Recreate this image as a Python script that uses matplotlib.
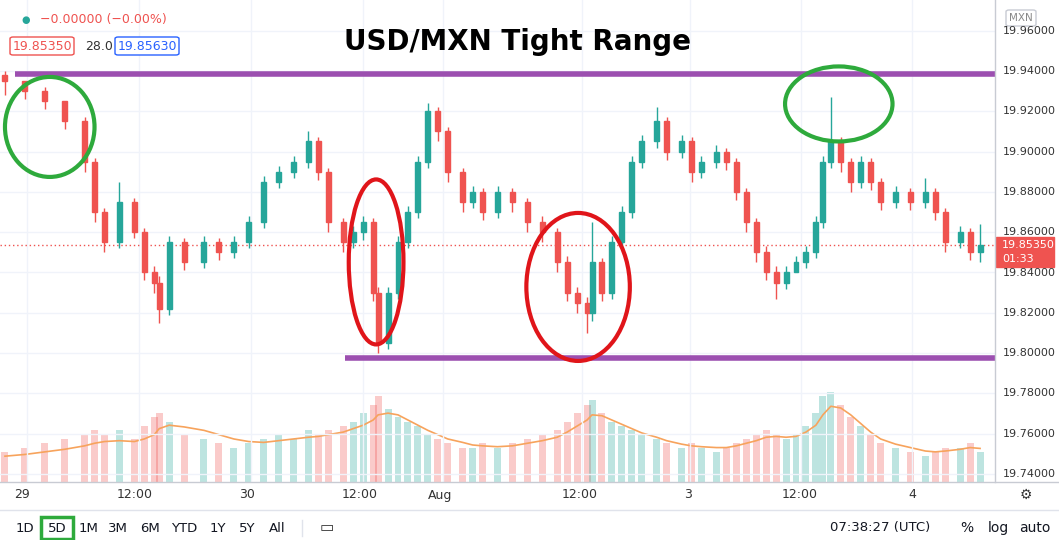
import matplotlib
matplotlib.use("Agg")
import matplotlib.pyplot as plt
from matplotlib.patches import Ellipse, FancyBboxPatch, Rectangle

xs = [0,20,40,60,80,90,100,115,130,140,150,155,165,180,200,215,230,245,260,275,290,305,315,325,340,350,360,370,375,385,
      395,405,415,425,435,445,460,470,480,495,510,525,540,555,565,575,585,590,600,610,620,630,640,655,665,680,690,700,715,725,
      735,745,755,765,775,785,795,805,815,822,830,840,850,860,870,880,895,910,925,935,945,960,970,980]
closes = [19.935,19.930,19.925,19.915,19.895,19.870,19.855,19.875,19.860,19.840,
          19.835,19.822,19.855,19.845,19.855,19.850,19.855,19.865,19.885,19.890,
          19.895,19.905,19.890,19.865,19.855,19.860,19.865,19.830,19.805,19.830,
          19.855,19.870,19.895,19.920,19.910,19.890,19.875,19.880,19.870,19.880,
          19.875,19.865,19.860,19.845,19.830,19.825,19.820,19.845,19.830,19.855,
          19.870,19.895,19.905,19.915,19.900,19.905,19.890,19.895,19.900,19.895,
          19.880,19.865,19.850,19.840,19.835,19.840,19.845,19.850,19.865,19.895,
          19.905,19.895,19.885,19.895,19.885,19.875,19.880,19.875,19.880,19.870,
          19.855,19.860,19.850,19.8535]
first_open = 19.938
highs = [19.940,19.934,19.932,19.922,19.917,19.897,19.872,19.885,19.877,19.862,
         19.843,19.838,19.858,19.857,19.858,19.857,19.858,19.868,19.888,19.893,
         19.898,19.910,19.907,19.892,19.867,19.863,19.868,19.867,19.833,19.833,
         19.858,19.873,19.898,19.924,19.922,19.912,19.892,19.883,19.882,19.883,
         19.882,19.877,19.868,19.862,19.848,19.833,19.828,19.865,19.847,19.858,
         19.873,19.898,19.908,19.922,19.917,19.908,19.907,19.898,19.903,19.902,
         19.897,19.882,19.867,19.853,19.843,19.843,19.848,19.853,19.868,19.898,
         19.927,19.907,19.897,19.898,19.897,19.887,19.883,19.882,19.887,19.882,
         19.872,19.863,19.862,19.864]
lows = [19.928,19.926,19.921,19.911,19.890,19.865,19.850,19.852,19.857,19.836,
        19.830,19.815,19.819,19.841,19.842,19.846,19.847,19.852,19.862,19.882,
        19.887,19.892,19.886,19.860,19.850,19.852,19.856,19.826,19.800,19.802,
        19.827,19.852,19.867,19.892,19.905,19.885,19.870,19.872,19.866,19.867,
        19.870,19.860,19.855,19.840,19.826,19.820,19.810,19.816,19.826,19.827,
        19.852,19.867,19.892,19.902,19.896,19.897,19.885,19.887,19.892,19.891,
        19.876,19.860,19.845,19.836,19.827,19.832,19.841,19.842,19.847,19.862,
        19.892,19.890,19.880,19.882,19.881,19.871,19.872,19.871,19.872,19.866,
        19.850,19.852,19.846,19.845]
volumes = [0.35,0.40,0.45,0.50,0.55,0.60,0.55,0.60,0.50,0.65,
           0.75,0.80,0.70,0.55,0.50,0.45,0.40,0.45,0.50,0.55,
           0.50,0.60,0.55,0.60,0.65,0.70,0.80,0.90,1.00,0.85,
           0.75,0.70,0.65,0.55,0.50,0.45,0.40,0.40,0.45,0.40,
           0.45,0.50,0.55,0.60,0.70,0.80,0.90,0.95,0.80,0.70,
           0.65,0.60,0.55,0.50,0.45,0.40,0.45,0.40,0.35,0.40,
           0.45,0.50,0.55,0.60,0.55,0.50,0.55,0.65,0.80,1.00,
           1.05,0.90,0.75,0.65,0.55,0.45,0.40,0.35,0.30,0.35,
           0.40,0.40,0.45,0.35]
vol_ma = [0.30,0.32,0.35,0.38,0.42,0.45,0.47,0.48,0.47,0.50,
          0.55,0.62,0.66,0.64,0.60,0.55,0.50,0.47,0.46,0.48,
          0.50,0.52,0.53,0.55,0.58,0.62,0.66,0.72,0.78,0.80,
          0.78,0.72,0.66,0.60,0.55,0.50,0.46,0.43,0.42,0.41,
          0.42,0.45,0.48,0.52,0.58,0.65,0.72,0.78,0.77,0.72,
          0.67,0.62,0.57,0.52,0.48,0.44,0.42,0.41,0.40,0.40,
          0.42,0.45,0.48,0.52,0.53,0.52,0.53,0.58,0.66,0.78,
          0.88,0.86,0.78,0.68,0.58,0.50,0.44,0.40,0.36,0.35,
          0.36,0.38,0.40,0.39]
price_ticks = [19.74,19.76,19.78,19.80,19.82,19.84,19.86,19.88,19.90,19.92,19.94,19.96]
time_labels = ["29","12:00","30","12:00","Aug","12:00","3","12:00","4"]
time_pos = [22,135,247,360,440,580,688,800,912]
last_price = 19.8535

W, H = 1059, 540
fig = plt.figure(figsize=(W/100, H/100), dpi=100)
fig.patch.set_facecolor("white")
ax = fig.add_axes([0, 1-482/H, 995/W, 482/H])
ax.set_xlim(-5, 995)
ax.set_ylim(19.736, 19.9752)
for s in ax.spines.values():
    s.set_visible(False)
ax.set_xticks([]); ax.set_yticks([])
for t in price_ticks:
    ax.axhline(t, color="#f0f3fa", lw=1, zorder=0)
for p in time_pos:
    ax.axvline(p, color="#f0f3fa", lw=1, zorder=0)

GREEN, RED = "#26a69a", "#ef5350"
vax = ax.twinx()
vax.set_ylim(0, 5.6)
vax.set_axis_off()
vax.set_xlim(-5, 995)
prev = first_open
for i, x in enumerate(xs):
    c = closes[i]; o = prev
    col = GREEN if c >= o else RED
    vax.bar(x, volumes[i], width=7, color=col, alpha=0.3, zorder=1)
    prev = c
vax.plot(xs, vol_ma, color="#f7a35c", lw=1.2, zorder=2)

prev = first_open
for i, x in enumerate(xs):
    c = closes[i]; o = prev
    col = GREEN if c >= o else RED
    ax.vlines(x, lows[i], highs[i], color=col, lw=1, zorder=3)
    ax.add_patch(Rectangle((x-2.5, min(o, c)), 5, max(abs(c-o), 0.0006), color=col, zorder=4))
    prev = c
ax.set_zorder(vax.get_zorder()+1); ax.patch.set_visible(False)

ax.axhline(last_price, color=RED, lw=1, ls=(0, (1, 2)), zorder=2)
PUR = "#9c4fb0"
ax.plot([10, 995], [19.9385, 19.9385], color=PUR, lw=4, solid_capstyle="butt", zorder=5)
ax.plot([342, 995], [19.7975, 19.7975], color=PUR, lw=4, solid_capstyle="butt", zorder=5)

def px2p(y):
    return 19.94 - (y-71)*0.2/403
ells = [(45,127,90,100,"#2eaa3c"),(838,104,108,75,"#2eaa3c"),(373,262,55,165,"#e0151a"),(576,287,104,148,"#e0151a")]
for ex, ey, ew, eh, col in ells:
    ax.add_patch(Ellipse((ex, px2p(ey)), ew, eh*0.2/403, fill=False, ec=col, lw=3, zorder=6))

fig.text(517/W, 1-42/H, "USD/MXN Tight Range", ha="center", va="center", fontsize=20, fontweight="bold", color="black")

fig.text(26/W, 1-20/H, "●", color=GREEN, fontsize=7, ha="center", va="center")
fig.text(40/W, 1-20/H, "−0.00000 (−0.00%)", color=RED, fontsize=9, va="center")
def box(x, y, w, txt, ec, tc):
    fig.patches.append(FancyBboxPatch((x/W, 1-(y+9)/H), w/W, 18/H, boxstyle="round,pad=0,rounding_size=0.003",
                                      transform=fig.transFigure, fc="white", ec=ec, lw=1))
    fig.text((x+w/2)/W, 1-y/H, txt, color=tc, fontsize=9, ha="center", va="center")
box(10, 46, 64, "19.85350", RED, RED)
fig.text(85/W, 1-46/H, "28.0", color="#333", fontsize=9, va="center")
box(115, 46, 64, "19.85630", "#2962ff", "#2962ff")

fig.add_artist(plt.Line2D([995/W, 995/W], [1-482/H, 1], color="#c8cbd3", lw=1))
for t in price_ticks:
    y = 71 + (19.94 - t)*403/0.2
    fig.text(1003/W, 1-y/H, f"{t:.5f}", fontsize=8, color="#333", va="center")
ly = 71 + (19.94 - last_price)*403/0.2
fig.patches.append(Rectangle((996/W, 1-(ly+22)/H), 58/W, 30/H, transform=fig.transFigure, fc=RED, ec=RED))
fig.text(1002/W, 1-(ly)/H, "19.85350", fontsize=8, color="white", va="center")
fig.text(1002/W, 1-(ly+14)/H, "01:33", fontsize=8, color="white", va="center")
fig.patches.append(FancyBboxPatch((1006/W, 1-26/H), 30/W, 16/H, boxstyle="round,pad=0,rounding_size=0.003",
                                  transform=fig.transFigure, fc="white", ec="#c8cbd3", lw=1))
fig.text(1021/W, 1-18/H, "MXN", fontsize=7.5, color="#888", ha="center", va="center")

fig.add_artist(plt.Line2D([0, 1], [1-482/H, 1-482/H], color="#c8cbd3", lw=1))
for lab, p in zip(time_labels, time_pos):
    fig.text(p/W, 1-495/H, lab, fontsize=9, color="#333", ha="center", va="center")
fig.text(1026/W, 1-495/H, "⚙", fontsize=10, color="#333", ha="center", va="center")
fig.add_artist(plt.Line2D([0, 1], [1-510/H, 1-510/H], color="#e0e3eb", lw=1))

tb = [("1D",25),("5D",57),("1M",88),("3M",118),("6M",150),("YTD",184),("1Y",218),("5Y",247),("All",277)]
for lab, p in tb:
    fig.text(p/W, 1-528/H, lab, fontsize=9.5, color="#131722", ha="center", va="center")
fig.patches.append(Rectangle((41/W, 1-539/H), 32/W, 22/H, transform=fig.transFigure, fc="none", ec="#2eaa3c", lw=2.5))
fig.text(327/W, 1-528/H, "▭", fontsize=11, color="#333", ha="center", va="center")
fig.add_artist(plt.Line2D([302/W, 302/W], [1-536/H, 1-520/H], color="#e0e3eb", lw=1))
fig.text(880/W, 1-528/H, "07:38:27 (UTC)", fontsize=9.5, color="#131722", ha="center", va="center")
fig.text(967/W, 1-528/H, "%", fontsize=10, color="#131722", ha="center", va="center")
fig.text(998/W, 1-528/H, "log", fontsize=10, color="#131722", ha="center", va="center")
fig.text(1035/W, 1-528/H, "auto", fontsize=10, color="#131722", ha="center", va="center")

fig.savefig("out.png", dpi=100, facecolor="white")
